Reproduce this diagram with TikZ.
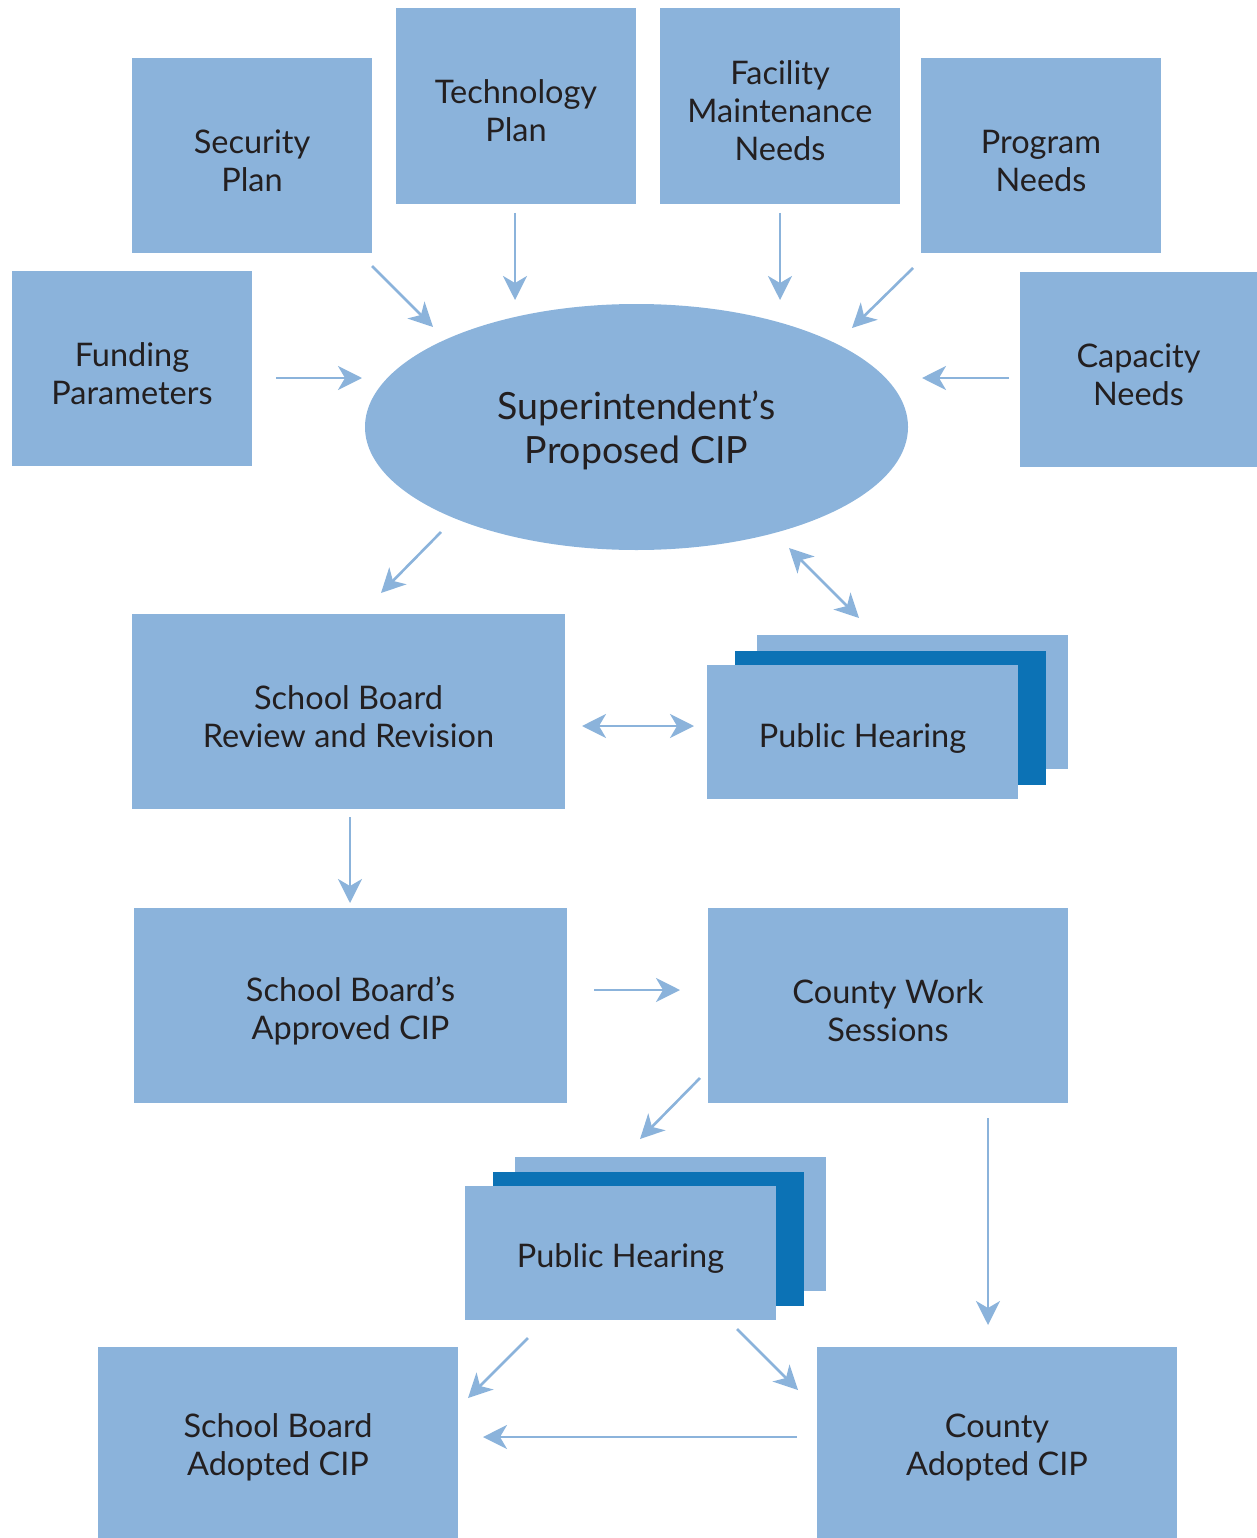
\documentclass[tikz,border=0pt]{standalone}
\usepackage{fontspec}
\setmainfont{Lato}
\usetikzlibrary{arrows.meta,shapes.geometric}
\definecolor{lb}{HTML}{8BB3DB}
\definecolor{db}{HTML}{0C72B5}
\definecolor{tx}{HTML}{231F20}
\begin{document}
\begin{tikzpicture}[x=1pt,y=-1pt,
 box/.style={rectangle, fill=lb, draw=none, inner sep=0pt},
 txt/.style={align=center, text=tx, inner sep=0pt, yshift=-5pt, font=\fontsize{32.5}{38}\selectfont},
 sheet/.style={rectangle, draw=none, inner sep=0pt, minimum width=311pt, minimum height=134pt},
 tip/.tip={Stealth[length=24pt,width=24pt,inset=7pt]},
 arr/.style={draw=lb, line width=2.6pt, -{tip[fill=lb]}},
 darr/.style={draw=lb, line width=2.6pt, {tip[fill=lb]}-{tip[fill=lb]}}]
\useasboundingbox (0,0) rectangle (1257,1538);
% top boxes
\node[box, minimum width=240pt, minimum height=195pt, label={[txt]center:Security\\Plan}] (sec) at (252,155.5) {};
\node[box, minimum width=240pt, minimum height=196pt, label={[txt]center:Technology\\Plan}] (tech) at (516,106) {};
\node[box, minimum width=240pt, minimum height=196pt, label={[txt]center:Facility\\Maintenance\\Needs}] (fac) at (780,106) {};
\node[box, minimum width=240pt, minimum height=195pt, label={[txt]center:Program\\Needs}] (prog) at (1041,155.5) {};
\node[box, minimum width=240pt, minimum height=195pt, label={[txt]center:Funding\\Parameters}] (fund) at (132,368.5) {};
\node[box, minimum width=237pt, minimum height=195pt, label={[txt]center:Capacity\\Needs}] (cap) at (1138.5,369.5) {};
% ellipse
\node[ellipse, fill=lb, draw=none, inner sep=0pt, minimum width=543pt, minimum height=246pt,
  label={[txt, yshift=2pt, font=\fontsize{37.5}{44}\selectfont]center:Superintendent’s\\Proposed CIP}] (sup) at (636.5,427) {};
% middle
\node[box, minimum width=433pt, minimum height=195pt, label={[txt]center:School Board\\Review and Revision}] (rev) at (348.5,711.5) {};
\node[sheet, fill=lb] (ph1c) at (912.5,702) {};
\node[sheet, fill=db] (ph1b) at (890.5,718) {};
\node[box, minimum width=311pt, minimum height=134pt, label={[txt, yshift=-1pt]center:Public Hearing}] (ph1) at (862.5,732) {};
\node[box, minimum width=433pt, minimum height=195pt, label={[txt]center:School Board’s\\Approved CIP}] (appr) at (350.5,1005.5) {};
\node[box, minimum width=360pt, minimum height=195pt, label={[txt]center:County Work\\Sessions}] (cws) at (888,1005.5) {};
\node[sheet, fill=lb] (ph2c) at (670.5,1224) {};
\node[sheet, fill=db] (ph2b) at (648.5,1239) {};
\node[box, minimum width=311pt, minimum height=134pt, label={[txt]center:Public Hearing}] (ph2) at (620.5,1253) {};
\node[box, minimum width=360pt, minimum height=191pt, label={[txt]center:School Board\\Adopted CIP}] (sba) at (278,1442.5) {};
\node[box, minimum width=360pt, minimum height=191pt, label={[txt]center:County\\Adopted CIP}] (ca) at (997,1442.5) {};
% connector end points
\coordinate (a1s) at (372,266); \coordinate (a1e) at (433,327);
\coordinate (a2s) at (515,213); \coordinate (a2e) at (515,300);
\coordinate (a3s) at (780,213); \coordinate (a3e) at (780,300);
\coordinate (a4s) at (913,268); \coordinate (a4e) at (852,328);
\coordinate (a5s) at (276,378); \coordinate (a5e) at (362,378);
\coordinate (a6s) at (1009,378); \coordinate (a6e) at (922,378);
\coordinate (a7s) at (441,532); \coordinate (a7e) at (381,593);
\coordinate (a8s) at (789,548); \coordinate (a8e) at (859,618);
\coordinate (a9s) at (582,726); \coordinate (a9e) at (694,726);
\coordinate (a10s) at (350,817); \coordinate (a10e) at (350,903);
\coordinate (a11s) at (594,990); \coordinate (a11e) at (680,990);
\coordinate (a12s) at (700,1078); \coordinate (a12e) at (640,1139);
\coordinate (a13s) at (988,1118); \coordinate (a13e) at (988,1325);
\coordinate (a14s) at (528,1338); \coordinate (a14e) at (468,1398);
\coordinate (a15s) at (737,1329); \coordinate (a15e) at (798,1390);
\coordinate (a16s) at (797,1437); \coordinate (a16e) at (483,1437);
\draw[arr] (a1s) -- (a1e);
\draw[arr] (a2s) -- (a2e);
\draw[arr] (a3s) -- (a3e);
\draw[arr] (a4s) -- (a4e);
\draw[arr] (a5s) -- (a5e);
\draw[arr] (a6s) -- (a6e);
\draw[arr] (a7s) -- (a7e);
\draw[darr] (a8s) -- (a8e);
\draw[darr] (a9s) -- (a9e);
\draw[arr] (a10s) -- (a10e);
\draw[arr] (a11s) -- (a11e);
\draw[arr] (a12s) -- (a12e);
\draw[arr] (a13s) -- (a13e);
\draw[arr] (a14s) -- (a14e);
\draw[arr] (a15s) -- (a15e);
\draw[arr] (a16s) -- (a16e);
\end{tikzpicture}
\end{document}
